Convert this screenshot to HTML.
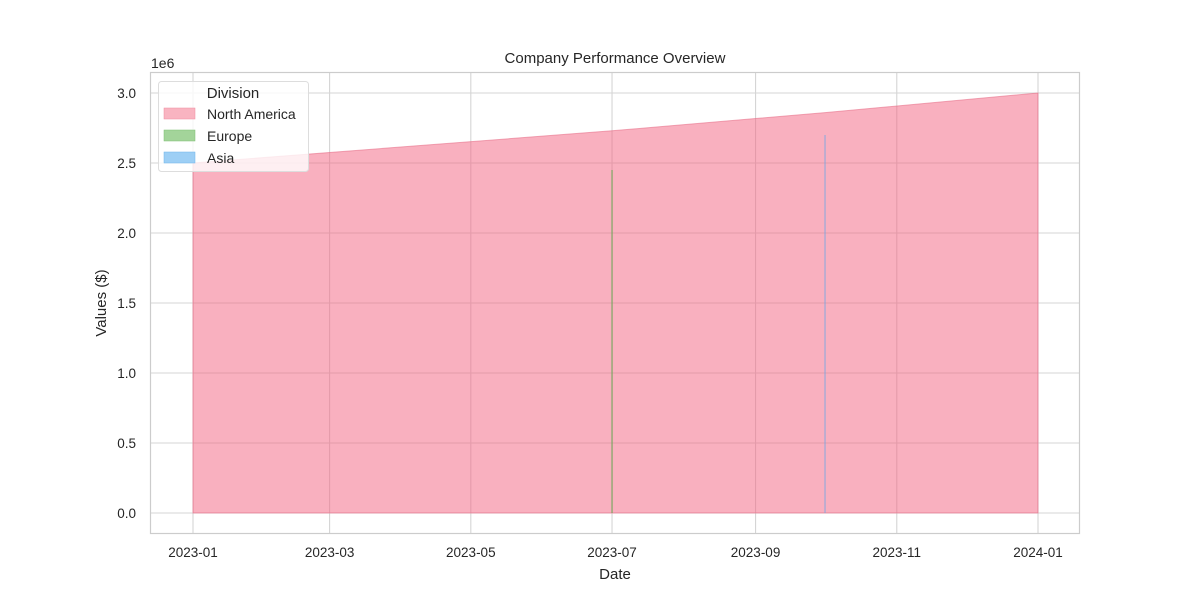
<!DOCTYPE html>
<html><head><meta charset="utf-8"><style>
body{margin:0;background:#fff;font-family:"Liberation Sans",sans-serif}
svg text{font-family:"Liberation Sans",sans-serif;fill:#262626}
</style></head><body>
<svg width="1200" height="600" id="c">
<rect x="0" y="0" width="1200" height="600" fill="#fff"/>
<text x="615" y="63" text-anchor="middle" font-size="15">Company Performance Overview</text>
<text x="615" y="579" text-anchor="middle" font-size="15">Date</text>
<text x="106" y="303" text-anchor="middle" font-size="15" transform="rotate(-90 106 303)">Values ($)</text>
<text x="151" y="68" font-size="14">1e6</text>
<g id="grid"></g><g id="marks"></g>
<rect x="150.5" y="72.5" width="929" height="461" fill="none" stroke="#ccc" stroke-width="1.2"/>
<g>
<rect x="158.5" y="81.5" width="150" height="90" rx="3" fill="#fff" fill-opacity="0.8" stroke="#ddd"/>
<text x="233" y="98" text-anchor="middle" font-size="15">Division</text>
<rect x="164" y="108" width="31" height="11" fill="#f9b4c1" stroke="#f08aa0" stroke-width="0.5"/>
<text x="207" y="119" font-size="14">North America</text>
<rect x="164" y="130" width="31" height="11" fill="#a3d49a" stroke="#7cbf70" stroke-width="0.5"/>
<text x="207" y="141" font-size="14">Europe</text>
<rect x="164" y="152" width="31" height="11" fill="#9dcff5" stroke="#6fb5ea" stroke-width="0.5"/>
<text x="207" y="163" font-size="14">Asia</text>
</g>
</svg>
<script>
const naDates=["2023-01-01","2023-07-01","2023-10-01","2024-01-01"];
const naValues=[2.5,2.73,2.86,3.0];
const euDates=["2023-07-01"];
const euValues=[2.45];
const asiaDates=["2023-10-01"];
const asiaValues=[2.7];
const yTicks=[0,0.5,1.0,1.5,2.0,2.5,3.0];
const xTicks=["2023-01","2023-03","2023-05","2023-07","2023-09","2023-11","2024-01"];
const NS="http://www.w3.org/2000/svg";
const t0=Date.parse("2023-01-01"),t1=Date.parse("2024-01-01");
function X(d){const t=Date.parse(d.length==7?d+"-01":d);return 193+(t-t0)/(t1-t0)*845;}
function Y(v){return 513-v*140;}
function mk(tag,attrs,parent){const e=document.createElementNS(NS,tag);for(const k in attrs)e.setAttribute(k,attrs[k]);parent.appendChild(e);return e;}
const grid=document.getElementById('grid'),marks=document.getElementById('marks'),svg=document.getElementById('c');
yTicks.forEach(v=>{
 const l=mk('line',{x1:150,x2:1080,y1:Y(v),y2:Y(v),stroke:'#d5d5d5','stroke-width':1.1},grid);
 
 
 const t=mk('text',{x:136,y:Y(v)+5,'text-anchor':'end','font-size':13.5},svg);
 t.textContent=v.toFixed(1);
 
 
});
xTicks.forEach(d=>{
 const l=mk('line',{x1:X(d),x2:X(d),y1:72,y2:534,stroke:'#d5d5d5','stroke-width':1.1},grid);
 
 
 const t=mk('text',{x:X(d),y:557,'text-anchor':'middle','font-size':13.5},svg);
 t.textContent=d;
 
 
});
function area(dates,vals,fill,stroke,so,name){
 let p=`M${X(dates[0])},${Y(0)}`;
 dates.forEach((d,i)=>p+=` L${X(d)},${Y(vals[i])}`);
 p+=` L${X(dates[dates.length-1])},${Y(0)} Z`;
 const e=mk('path',{d:p,fill:fill,'fill-opacity':0.5,stroke:stroke,'stroke-opacity':so,'stroke-width':1},marks);
 
 
}
area(naDates,naValues,'#f4617f','#e8728a',0.6,'area-north-america');
area(euDates,euValues,'#48a83a','#5aa84a',0.9,'area-europe');
area(asiaDates,asiaValues,'#3aa0ec','#7aa7e0',0.9,'area-asia');
</script>
</body></html>
